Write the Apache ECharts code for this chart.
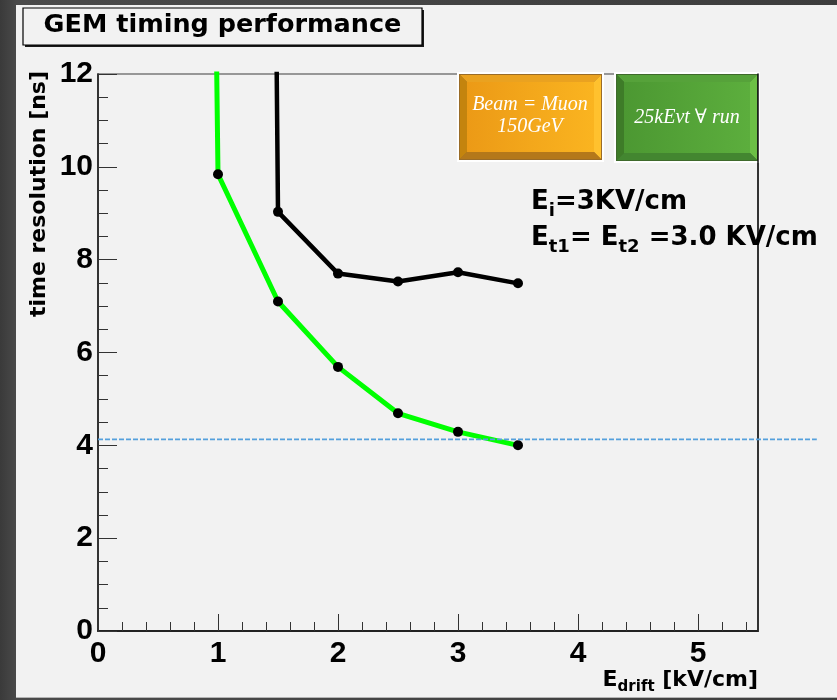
<!DOCTYPE html>
<html>
<head>
<meta charset="utf-8">
<script src="https://cdn.jsdelivr.net/npm/echarts@6/dist/echarts.min.js"></script>
<style>
  html, body { margin: 0; padding: 0; }
  body { width: 837px; height: 700px; background: linear-gradient(90deg, #3a3a3a, #4a4a4a 2%, #3d3d3d); overflow: hidden; }
  #pad { position: absolute; left: 16px; top: 5px; width: 821px; height: 692px; background: #f2f2f2; border-bottom: 1px solid #b4b4b4; }
  #chart { position: absolute; left: 0; top: 0; width: 837px; height: 700px; }
</style>
</head>
<body>
<div id="pad"></div>
<div id="chart"></div>
<script>
// drift field [kV/cm] and time resolution [ns]
const driftGreen = [1, 1.5, 2, 2.5, 3, 3.5];
const resGreen = [9.84, 7.1, 5.69, 4.69, 4.29, 4.0];
const driftBlack = [1.5, 2, 2.5, 3, 3.5];
const resBlack = [9.03, 7.7, 7.53, 7.73, 7.49];
// points above the frame (line only goes up out of the plot)
const leadGreen = [0.97, 16];
const leadBlack = [1.475, 16];
const refLevel = 4.13;

const xMin = 0, xMax = 5.5, xStep = 1, xMinorStep = 0.2;
const yMin = 0, yMax = 12, yStep = 2;

const titleText = 'GEM timing performance';
const yTitle = 'time resolution [ns]';

const boldSans = 'DejaVu Sans';
const tickFont = 'Liberation Sans';

function lineData(xs, ys, lead) {
  const d = [{ value: lead, symbol: 'none' }];
  xs.forEach((x, i) => d.push([x, ys[i]]));
  return d;
}

function bevelBox(x, y, w, h, c) {
  const b = 8;
  const ix = x + 2, iy = y + 2, iw = w - 4, ih = h - 4;
  return {
    type: 'group',
    children: [
      { type: 'rect', shape: { x: x, y: y, width: w, height: h }, style: { fill: '#ffffff' } },
      { type: 'rect', shape: { x: ix, y: iy, width: iw, height: ih }, style: { fill: c.outline } },
      { type: 'polygon', shape: { points: [[ix + 1, iy + 1], [ix + iw - 1, iy + 1], [ix + iw - b, iy + b], [ix + b, iy + b]] }, style: { fill: c.top } },
      { type: 'polygon', shape: { points: [[ix + 1, iy + 1], [ix + b, iy + b], [ix + b, iy + ih - b], [ix + 1, iy + ih - 1]] }, style: { fill: c.left } },
      { type: 'polygon', shape: { points: [[ix + iw - 1, iy + 1], [ix + iw - 1, iy + ih - 1], [ix + iw - b, iy + ih - b], [ix + iw - b, iy + b]] }, style: { fill: c.right } },
      { type: 'polygon', shape: { points: [[ix + 1, iy + ih - 1], [ix + b, iy + ih - b], [ix + iw - b, iy + ih - b], [ix + iw - 1, iy + ih - 1]] }, style: { fill: c.bottom } },
      { type: 'rect', shape: { x: ix + b, y: iy + b, width: iw - 2 * b, height: ih - 2 * b },
        style: { fill: new echarts.graphic.LinearGradient(0, 0, 1, 0, [{ offset: 0, color: c.face0 }, { offset: 1, color: c.face1 }]) } }
    ]
  };
}

const chart = echarts.init(document.getElementById('chart'));

const option = {
  animation: false,
  backgroundColor: 'transparent',
  grid: [
    { left: 98, right: 79, top: 74, bottom: 69, show: true, borderColor: '#7a7a7a', borderWidth: 1.5, backgroundColor: 'transparent' },
    { left: 98, right: 79, top: 74, bottom: 69 }
  ],
  xAxis: [
    {
      gridIndex: 0, type: 'value', min: xMin, max: xMax, interval: xStep,
      axisLine: { show: true, onZero: false, lineStyle: { color: '#222', width: 2 } },
      axisTick: { inside: true, length: 17, lineStyle: { color: '#333' } },
      axisLabel: { margin: 8, fontFamily: tickFont, fontWeight: 'bold', fontSize: 30, color: '#000',
        formatter: v => Number.isInteger(v) ? String(v) : '' },
      splitLine: { show: false }
    },
    {
      gridIndex: 1, type: 'value', position: 'bottom', min: xMin, max: xMax, interval: xMinorStep,
      axisLine: { show: false },
      axisTick: { inside: true, length: 9, lineStyle: { color: '#333' } },
      axisLabel: { show: false },
      splitLine: { show: false }
    }
  ],
  yAxis: [
    {
      gridIndex: 0, type: 'value', min: yMin, max: yMax, interval: yStep,
      axisLine: { show: true, onZero: false, lineStyle: { color: '#111', width: 1.5 } },
      axisTick: { inside: true, length: 19, lineStyle: { color: '#333' } },
      minorTick: { show: true, splitNumber: 4, length: 10, lineStyle: { color: '#333' } },
      axisLabel: { margin: 5, fontFamily: tickFont, fontWeight: 'bold', fontSize: 30, color: '#000' },
      splitLine: { show: false }
    },
    {
      gridIndex: 1, type: 'value', position: 'right', min: yMin, max: yMax, interval: yStep,
      axisLine: { show: true, onZero: false, lineStyle: { color: '#111', width: 1.5 } },
      axisTick: { show: false },
      axisLabel: { show: false },
      splitLine: { show: false }
    }
  ],
  series: [
    {
      type: 'line', xAxisIndex: 0, yAxisIndex: 0, clip: true,
      data: lineData(driftGreen, resGreen, leadGreen),
      symbol: 'circle', symbolSize: 10, showAllSymbol: true,
      lineStyle: { color: '#00ff00', width: 5 },
      itemStyle: { color: '#000' }
    },
    {
      type: 'line', xAxisIndex: 0, yAxisIndex: 0, clip: true,
      data: lineData(driftBlack, resBlack, leadBlack),
      symbol: 'circle', symbolSize: 10, showAllSymbol: true,
      lineStyle: { color: '#000', width: 4.5 },
      itemStyle: { color: '#000' }
    }
  ]
};
chart.setOption(option);

// overlays: reference level, boxes and text
const yRef = chart.convertToPixel({ yAxisIndex: 0 }, refLevel);
const xRef0 = chart.convertToPixel({ xAxisIndex: 0 }, 0);
const xRef1 = chart.convertToPixel({ xAxisIndex: 0 }, 5.99);

chart.setOption({
  graphic: [
    { type: 'line', z: 50, shape: { x1: xRef0, y1: yRef, x2: xRef1, y2: yRef },
      style: { stroke: '#55a0dc', lineWidth: 1.8, lineDash: [5, 2] } },
    { type: 'rect', z: 60, shape: { x: 25, y: 10, width: 399, height: 37 }, style: { fill: '#1a1a1a' } },
    { type: 'rect', z: 61, shape: { x: 23, y: 8, width: 399, height: 37 }, style: { fill: '#f2f2f2', stroke: '#000', lineWidth: 1.2 } },
    { type: 'text', z: 62, x: 222.5, y: 25,
      style: { text: titleText, fontFamily: boldSans, fontWeight: 'bold', fontSize: 25.5, fill: '#000', align: 'center', verticalAlign: 'middle' } },
    Object.assign(bevelBox(457, 72, 147, 90, {
      outline: '#9a6c28', top: '#eaa220', left: '#c4840e', right: '#ffc12e', bottom: '#b4781a', face0: '#ec9a16', face1: '#fab420'
    }), { z: 70 }),
    Object.assign(bevelBox(614, 72, 146, 91, {
      outline: '#3f6a2c', top: '#56a23a', left: '#3e7c28', right: '#6cc045', bottom: '#438630', face0: '#4c9832', face1: '#5cae3d'
    }), { z: 70 }),
    { type: 'text', z: 75, x: 530, y: 116,
      style: { text: 'Beam = Muon\n150GeV', fontFamily: 'Liberation Serif', fontStyle: 'italic', fontSize: 20, lineHeight: 22,
        fill: '#fff', align: 'center', verticalAlign: 'middle' } },
    { type: 'text', z: 75, x: 687, y: 118,
      style: { text: '25kEvt \u2200 run', fontFamily: 'Liberation Serif, DejaVu Serif', fontStyle: 'italic', fontSize: 20,
        fill: '#fff', align: 'center', verticalAlign: 'middle' } },
    { type: 'text', z: 80, x: 531, y: 184,
      style: {
        text: '{m|E}{s|i}{m|=3KV/cm}\n{m|E}{s|t1}{m|= E}{s|t2}{m| =3.0 KV/cm}',
        align: 'left', verticalAlign: 'top',
        rich: {
          m: { fontFamily: boldSans, fontWeight: 'bold', fontSize: 26, lineHeight: 36, fill: '#000' },
          s: { fontFamily: boldSans, fontWeight: 'bold', fontSize: 18, lineHeight: 14, verticalAlign: 'bottom', fill: '#000' }
        }
      } },
    { type: 'text', z: 80, x: 758, y: 665,
      style: {
        text: '{m|E}{s|drift}{m| [kV/cm]}',
        align: 'right', verticalAlign: 'top',
        rich: {
          m: { fontFamily: boldSans, fontWeight: 'bold', fontSize: 22, lineHeight: 30, fill: '#000' },
          s: { fontFamily: boldSans, fontWeight: 'bold', fontSize: 15, lineHeight: 7, verticalAlign: 'bottom', fill: '#000' }
        }
      } },
    { type: 'text', z: 80, x: 38.8, y: 71, rotation: Math.PI / 2,
      style: { text: yTitle, fontFamily: boldSans, fontWeight: 'bold', fontSize: 22, fill: '#000', align: 'right', verticalAlign: 'middle' } }
  ]
});
</script>
</body>
</html>
